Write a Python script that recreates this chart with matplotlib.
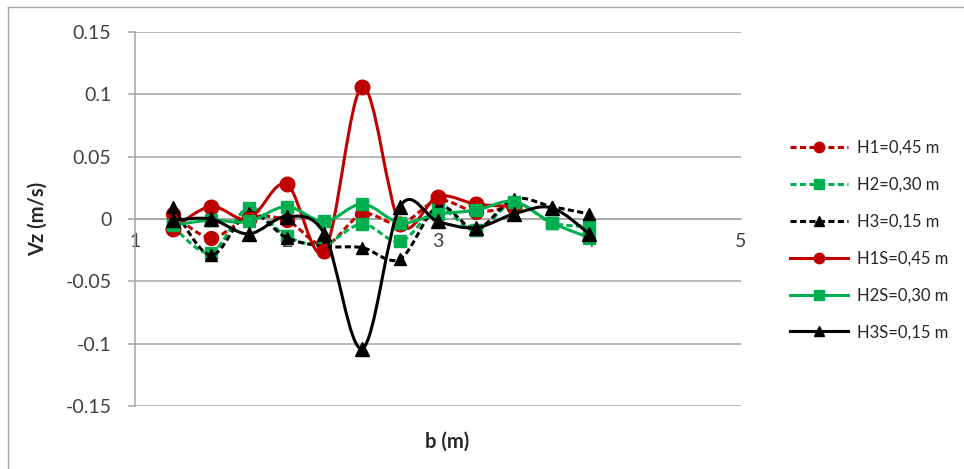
import matplotlib
matplotlib.use('Agg')
import matplotlib.pyplot as plt
from matplotlib.path import Path
from matplotlib.patches import PathPatch
from matplotlib.lines import Line2D

plt.rcParams['font.family'] = ['Lato', 'DejaVu Sans']
plt.rcParams['axes.unicode_minus'] = False

# data
b = [1.25, 1.5, 1.75, 2.0, 2.25, 2.5, 2.75, 3.0, 3.25, 3.5, 3.75, 4.0]

h1 = [0.004, -0.015, 0.001, -0.001, -0.021, 0.004, -0.004, 0.015, 0.006, 0.010]
h2 = [-0.006, -0.027, 0.009, -0.014, -0.020, -0.004, -0.018, 0.008, -0.009, 0.013, -0.003, -0.006]
h3 = [0.010, -0.029, 0.005, -0.015, -0.022, -0.023, -0.032, 0.010, -0.008, 0.016, 0.010, 0.004]
h1s = [-0.008, 0.010, 0.000, 0.028, -0.026, 0.106, -0.004, 0.018, 0.012, 0.010]
h2s = [-0.005, -0.001, -0.002, 0.010, -0.002, 0.012, -0.003, 0.004, 0.007, 0.014, -0.003, -0.015]
h3s = [-0.001, 0.000, -0.012, 0.002, -0.012, -0.104, 0.010, -0.002, -0.007, 0.004, 0.009, -0.012]

labels = ['H1=0,45 m', 'H2=0,30 m', 'H3=0,15 m', 'H1S=0,45 m', 'H2S=0,30 m', 'H3S=0,15 m']
y_ticks = [-0.15, -0.1, -0.05, 0, 0.05, 0.1, 0.15]
y_tick_labels = ['-0.15', '-0.1', '-0.05', '0', '0.05', '0.1', '0.15']
x_ticks = [1, 2, 3, 4, 5]

RED = '#c00000'
GREEN = '#00b050'
BLACK = '#000000'
DASH = (0, (2.0, 1.1))


def smooth_path(x, y, t=1/6):
    # excel-like smoothed line: bezier segments through the points
    verts = [(x[0], y[0])]
    codes = [Path.MOVETO]
    n = len(x)
    for i in range(n - 1):
        i0 = max(i - 1, 0)
        i3 = min(i + 2, n - 1)
        c1 = (x[i] + (x[i + 1] - x[i0]) * t, y[i] + (y[i + 1] - y[i0]) * t)
        c2 = (x[i + 1] - (x[i3] - x[i]) * t, y[i + 1] - (y[i3] - y[i]) * t)
        verts += [c1, c2, (x[i + 1], y[i + 1])]
        codes += [Path.CURVE4] * 3
    return Path(verts, codes)


series = [
    (h1, RED, 'o', DASH, 10),
    (h2, GREEN, 's', DASH, 9),
    (h3, BLACK, '^', DASH, 8),
    (h1s, RED, 'o', '-', 10.5),
    (h2s, GREEN, 's', '-', 9),
    (h3s, BLACK, '^', '-', 10.5),
]

fig = plt.figure(figsize=(9.64, 4.69), dpi=100)
ax = fig.add_axes([135 / 964, 1 - 406 / 469, 606 / 964, 374 / 469])

handles = []
for k, (vals, col, mk, ls, ms) in enumerate(series):
    xs = b[:len(vals)]
    ax.add_patch(PathPatch(smooth_path(xs, vals), fill=False, edgecolor=col,
                           lw=2.2, linestyle=ls, zorder=3 + k, capstyle='butt'))
    ax.plot(xs, vals, ls='none', marker=mk, color=col, ms=ms, zorder=3 + k)
    handles.append(Line2D([], [], color=col, lw=2.2, ls=ls, marker=mk, ms=7.5))

ax.set_xlim(1, 5)
ax.set_ylim(-0.15, 0.15)
ax.set_yticks(y_ticks)
ax.set_yticklabels(y_tick_labels)
ax.set_xticks(x_ticks)
ax.set_xticklabels([str(v) for v in x_ticks])

ax.grid(axis='y', color='#a6a6a6', lw=1.1)
ax.set_axisbelow(True)
for s in ['top', 'right']:
    ax.spines[s].set_visible(False)
ax.spines['bottom'].set_position(('data', 0))
ax.spines['bottom'].set_color('#a6a6a6')
ax.spines['left'].set_color('#a6a6a6')
ax.spines['left'].set_linewidth(1.1)
ax.spines['bottom'].set_linewidth(1.1)

ax.tick_params(axis='y', length=5, width=1.1, color='#a6a6a6', pad=12,
               labelsize=14, labelcolor='#404040')
ax.tick_params(axis='x', length=0, pad=10, labelsize=14, labelcolor='#404040')

ax.set_ylabel('Vz (m/s)', fontsize=14.5, fontweight='bold', color='#262626')
ax.yaxis.set_label_coords(-0.144, 0.5)
ax.set_xlabel('b (m)', fontsize=14.5, fontweight='bold', color='#262626')
ax.xaxis.set_label_coords(0.515, -0.068)

ax.legend(handles, labels, loc='center left', bbox_to_anchor=(790 / 964, 0.488),
          bbox_transform=fig.transFigure, frameon=False, fontsize=12,
          handlelength=3.5, handletextpad=0.5, labelspacing=1.25,
          borderpad=0, borderaxespad=0, labelcolor='#262626')

# chart area border (left/top visible)
fig.add_artist(Line2D([7.5 / 964, 7.5 / 964], [0, 1 - 7.5 / 469], color='#a6a6a6',
                      lw=1, transform=fig.transFigure))
fig.add_artist(Line2D([7.5 / 964, 1], [1 - 7.5 / 469, 1 - 7.5 / 469], color='#a6a6a6',
                      lw=1, transform=fig.transFigure))

fig.savefig('out.png', dpi=100)
